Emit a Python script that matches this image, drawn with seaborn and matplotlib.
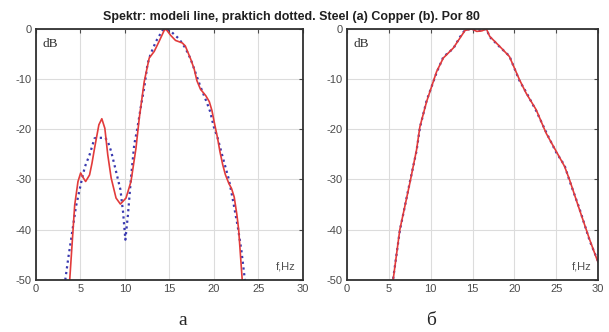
import matplotlib
matplotlib.use("Agg")
import matplotlib.pyplot as plt
import numpy as np
import pandas as pd
import seaborn as sns

# panel a (steel): model (solid red) and measured (dotted blue)
fa_model = [3.8, 4.1, 4.36, 4.73, 5.03, 5.3, 5.59, 6.03, 6.3, 6.59, 7.08, 7.41, 7.75, 8.08,
            8.46, 9.01, 9.5, 10.13, 10.69, 11.25, 11.62, 12.18, 12.74, 13.3, 13.85, 14.4,
            14.6, 15.16, 15.7, 16.46, 16.8, 17.4, 17.8, 18.1, 18.5, 19.1, 19.5, 19.8, 20.1,
            20.4, 20.7, 21.0, 21.3, 21.7, 22.0, 22.3, 22.6, 22.8, 23.0, 23.2]
db_a_model = [-50, -42, -35.1, -30.4, -28.7, -29.6, -30.4, -29.1, -26.8, -23.8, -19.1, -17.9,
              -19.8, -25.1, -29.7, -33.7, -34.9, -33.7, -30.4, -23.8, -17.8, -10.5, -5.8,
              -4.5, -2.5, -0.4, 0.0, -1.3, -2.3, -2.8, -3.4, -6.0, -8.0, -10.3, -12.0,
              -13.3, -14.5, -16.3, -19.0, -21.5, -24.5, -27.0, -29.0, -30.8, -31.8, -33.5,
              -37.0, -40.0, -45.0, -50.0]
fa_meas = [3.3, 3.65, 4.0, 4.5, 5.1, 5.5, 6.03, 6.59, 6.9, 7.8, 8.1, 8.46, 9.01, 9.5, 9.8,
           10.06, 10.35, 10.69, 11.06, 11.4, 11.8, 12.2, 12.55, 12.9, 13.5, 14.2, 14.6, 15.3,
           16.1, 16.8, 17.4, 18.1, 18.5, 19.25, 19.6, 20.0, 20.4, 21.0, 21.7, 22.1, 22.7,
           23.1, 23.5]
db_a_meas = [-50, -45.5, -41.4, -35.4, -30.5, -27.5, -25.1, -21.8, -21.7, -21.7, -22.5,
             -24.4, -28.4, -32.0, -36.5, -42.0, -37.0, -29.7, -23.0, -19.9, -15.5, -11.5,
             -7.0, -5.0, -2.5, -0.4, 0.0, -0.7, -2.0, -3.8, -6.0, -9.5, -11.5, -14.8, -16.5,
             -19.5, -21.5, -25.5, -30.0, -33.6, -39.4, -44.0, -50.0]

# panel b (copper)
fb_model = [5.5, 6.3, 7.5, 8.3, 8.7, 9.5, 10.7, 11.5, 12.7, 13.5, 14.1, 14.9, 15.5, 16.1,
            16.65, 17.05, 18.25, 19.4, 20.6, 21.4, 22.6, 23.8, 25.0, 26.0, 26.6, 27.8,
            29.0, 30.0]
db_b_model = [-50, -40, -30.7, -24.1, -19.5, -14.5, -8.5, -5.8, -3.8, -1.8, -0.3, 0.0, -0.5,
              -0.4, 0.0, -1.5, -3.5, -5.5, -10.1, -12.8, -16.1, -20.8, -24.4, -27.4, -30.1,
              -36.1, -42.0, -46.5]
fb_meas = fb_model
db_b_meas = [-49.8, -40.2, -30.5, -24.3, -19.7, -14.3, -8.7, -5.6, -3.9, -1.6, -0.2, 0.0,
             -0.4, -0.3, 0.0, -1.6, -3.6, -5.4, -10.3, -12.6, -16.3, -20.6, -24.6, -27.2,
             -30.3, -35.9, -42.2, -46.3]

sns.set_style("white")
plt.rcParams["font.family"] = ["Liberation Sans", "DejaVu Sans"]
plt.rcParams["axes.unicode_minus"] = False

red = "#e23b3b"
blue = "#3a3ab0"
tick_col = "#4a4a4a"

fig = plt.figure(figsize=(6.09, 3.32), dpi=100)
ax1 = fig.add_axes([0.059, 0.157, 0.438, 0.756])
ax2 = fig.add_axes([0.570, 0.157, 0.412, 0.756])

panels = [
    (ax1, fa_model, db_a_model, fa_meas, db_a_meas),
    (ax2, fb_model, db_b_model, fb_meas, db_b_meas),
]
for ax, fm, dm, fp, dp in panels:
    sns.lineplot(x=fp, y=dp, ax=ax, color=blue, lw=1.6, linestyle=(0, (1, 1.6)),
                 sort=False, estimator=None)
    sns.lineplot(x=fm, y=dm, ax=ax, color=red, lw=1.2, sort=False, estimator=None)
    ax.set_xlim(0, 30)
    ax.set_ylim(-50, 0)
    ax.set_xticks([0, 5, 10, 15, 20, 25, 30])
    ax.set_yticks([-50, -40, -30, -20, -10, 0])
    ax.grid(True, color="#dcdcdc", lw=0.8)
    ax.tick_params(direction="in", length=3, width=0.8, labelsize=8, colors=tick_col,
                   top=True, right=True, pad=3)
    for s in ax.spines.values():
        s.set_color("#303030")
        s.set_linewidth(1.3)
    ax.text(0.025, 0.965, "dB", transform=ax.transAxes, ha="left", va="top",
            family="Liberation Serif", fontsize=9.5, color="#303030")
    ax.text(0.975, 0.035, "f,Hz", transform=ax.transAxes, ha="right", va="bottom",
            fontsize=8, color="#505050")

fig.text(0.478, 0.948, "Spektr: modeli line, praktich dotted. Steel (a) Copper (b). Por 80",
         ha="center", va="center", fontsize=9, fontweight="bold", color="#202020")
fig.text(0.30, 0.035, "а", ha="center", va="center", family="Liberation Serif", fontsize=14)
fig.text(0.708, 0.035, "б", ha="center", va="center", family="Liberation Serif", fontsize=14)

fig.savefig("out.png", dpi=100)
